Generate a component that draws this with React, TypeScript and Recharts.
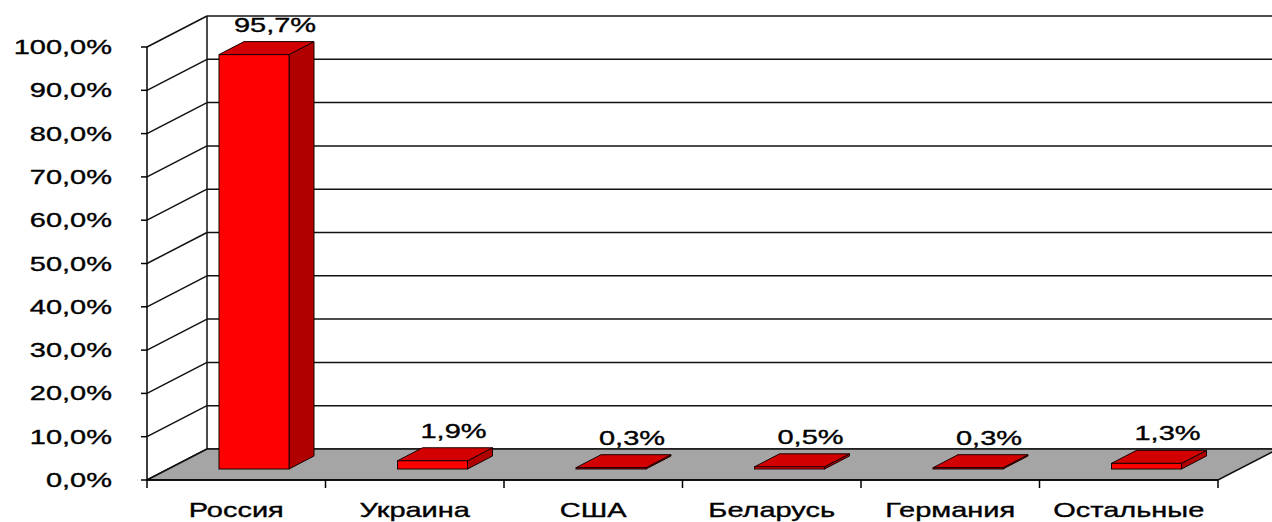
import React from "react";
import {
  BarChart,
  Bar,
  XAxis,
  YAxis,
  CartesianGrid,
  ReferenceArea,
  LabelList,
} from "recharts";

const countries = ["Россия", "Украина", "США", "Беларусь", "Германия", "Остальные"];
const shares = [95.7, 1.9, 0.3, 0.5, 0.3, 1.3];
const yTicks = [0, 10, 20, 30, 40, 50, 60, 70, 80, 90, 100];

const data = countries.map((name, i) => ({ name, value: shares[i] }));

// depth of the "3D" walls and bars
const WALL_DX = 60;
const WALL_DY = -31;
const BAR_SHIFT_X = 18;
const BAR_SHIFT_Y = -11;
const BAR_DX = 25;
const BAR_DY = -13;

const FONT = "'Liberation Sans', Arial, sans-serif";
const STRETCH = 1.45;

const fmt = (v: number, digits = 1) => v.toFixed(digits).replace(".", ",") + "%";

const WideText = ({ x, y, anchor, children }: any) => (
  <text
    transform={`translate(${x},${y}) scale(${STRETCH},1)`}
    textAnchor={anchor}
    fontFamily={FONT}
    fontSize={20}
    fill="#000"
    stroke="#000"
    strokeWidth={0.35}
  >
    {children}
  </text>
);

const YTick = ({ x, y, payload }: any) => (
  <WideText x={x - 27} y={y + 7} anchor="end">
    {fmt(payload.value)}
  </WideText>
);

const XTick = (props: any) => {
  const { x, y, payload, index, width } = props;
  const half = payload.offset ?? width / 12;
  return (
    <g>
      <line x1={x - half} y1={y - 8} x2={x - half} y2={y} stroke="#000" strokeWidth={1.5} />
      {index === countries.length - 1 && (
        <line x1={x + half} y1={y - 8} x2={x + half} y2={y} stroke="#000" strokeWidth={1.5} />
      )}
      <WideText x={x} y={y + 29} anchor="middle">
        {payload.value}
      </WideText>
    </g>
  );
};

const GridLine = (props: any) => {
  const { x1, y1, x2, y2 } = props;
  return (
    <g key={props.key}>
      <line x1={x1} y1={y1} x2={x1 + WALL_DX} y2={y1 + WALL_DY} stroke="#111" strokeWidth={1.5} />
      <line
        x1={x1 + WALL_DX}
        y1={y1 + WALL_DY}
        x2={x2 + WALL_DX}
        y2={y2 + WALL_DY}
        stroke="#111"
        strokeWidth={1.5}
      />
    </g>
  );
};

const Walls = (props: any) => {
  const { x, y, width, height } = props;
  const bottom = y + height;
  const floor = [
    [x, bottom],
    [x + WALL_DX, bottom + WALL_DY],
    [x + width + WALL_DX, bottom + WALL_DY],
    [x + width, bottom],
  ]
    .map((p) => p.join(","))
    .join(" ");
  return (
    <g>
      <polygon points={floor} fill="#a5a5a5" stroke="#111" strokeWidth={1.5} />
      <line
        x1={x + WALL_DX}
        y1={y + WALL_DY}
        x2={x + WALL_DX}
        y2={bottom + WALL_DY}
        stroke="#111"
        strokeWidth={1.5}
      />
    </g>
  );
};

const Box = (props: any) => {
  const { x, y, width, height } = props;
  const fx = x + BAR_SHIFT_X;
  const fy = y + BAR_SHIFT_Y;
  const h = Math.max(height, 1);
  const top = `${fx},${fy} ${fx + BAR_DX},${fy + BAR_DY} ${fx + width + BAR_DX},${fy + BAR_DY} ${fx + width},${fy}`;
  const side = `${fx + width},${fy} ${fx + width + BAR_DX},${fy + BAR_DY} ${fx + width + BAR_DX},${fy + h + BAR_DY} ${fx + width},${fy + h}`;
  return (
    <g stroke="#1a0000" strokeWidth={1}>
      <polygon points={side} fill="#b00000" />
      <polygon points={top} fill="#d20000" />
      <rect x={fx} y={fy} width={width} height={h} fill="#ff0000" />
    </g>
  );
};

const ValueLabel = (props: any) => {
  const { x, y, width, value } = props;
  return (
    <WideText x={x + width / 2 + 39} y={y - 34} anchor="middle">
      {fmt(value)}
    </WideText>
  );
};

export default function App() {
  return (
    <div style={{ position: "absolute", left: 0, top: 0, background: "#fff" }}>
      <BarChart
        width={1272}
        height={522}
        data={data}
        margin={{ top: 47, right: 54, bottom: 0, left: 0 }}
        barSize={70}
      >
        <ReferenceArea y1={0} y2={100} shape={Walls} ifOverflow="visible" />
        <CartesianGrid vertical={false} horizontal={GridLine} />
        <XAxis
          dataKey="name"
          height={42}
          tickLine={false}
          axisLine={{ stroke: "#000", strokeWidth: 1.5 }}
          tick={XTick}
          interval={0}
        />
        <YAxis
          domain={[0, 100]}
          ticks={yTicks}
          width={147}
          tickSize={6}
          axisLine={{ stroke: "#000", strokeWidth: 1.5 }}
          tickLine={{ stroke: "#000", strokeWidth: 1.5 }}
          tick={YTick}
        />
        <Bar dataKey="value" shape={Box} isAnimationActive={false}>
          <LabelList dataKey="value" content={ValueLabel} />
        </Bar>
      </BarChart>
    </div>
  );
}
